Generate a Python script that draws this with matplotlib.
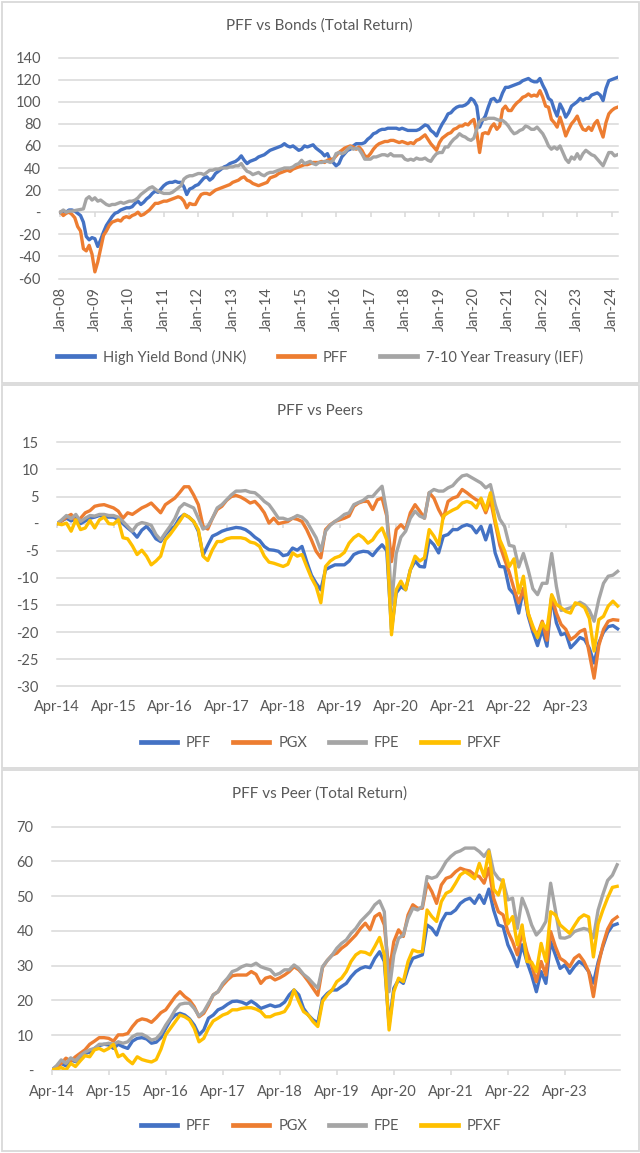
import matplotlib
matplotlib.use("Agg")
import matplotlib.pyplot as plt
from matplotlib.patches import Rectangle
from matplotlib.lines import Line2D

plt.rcParams['font.family'] = ['Lato', 'DejaVu Sans']

W, H, DPI = 640, 1153, 100
TXT = '#595959'
GRID = '#D9D9D9'
BLUE, ORANGE, GRAY, YELLOW = '#4472C4', '#ED7D31', '#A5A5A5', '#FFC000'

# ---------------- data: chart 1 (monthly, Jan-08 .. Mar-24) ----------------
bond_title = 'PFF vs Bonds (Total Return)'
bond_names = ['High Yield Bond (JNK)', 'PFF', '7-10 Year Treasury (IEF)']
bond_xlabels = ['Jan-08', 'Jan-09', 'Jan-10', 'Jan-11', 'Jan-12', 'Jan-13', 'Jan-14', 'Jan-15',
                'Jan-16', 'Jan-17', 'Jan-18', 'Jan-19', 'Jan-20', 'Jan-21', 'Jan-22', 'Jan-23', 'Jan-24']
bond_yticks = [140, 120, 100, 80, 60, 40, 20, 0, -20, -40, -60]
bond_ylabels = ['140', '120', '100', '80', '60', '40', '20', '-', '-20', '-40', '-60']

jnk = [0, 1, 0, 2, 2, 1, -1, -3, -9, -22, -25, -23,
       -24, -31, -25, -18, -12, -8, -4, -1, 0, 2, 3, 4,
       4, 5, 8, 10, 7, 9, 12, 14, 17, 19, 18, 21,
       24, 26, 27, 27, 28, 27, 27, 23, 16, 21, 22, 24,
       25, 28, 31, 32, 29, 31, 35, 37, 39, 41, 42, 44,
       45, 46, 48, 51, 47, 44, 46, 47, 48, 50, 51, 52,
       54, 56, 57, 58, 59, 60, 62, 60, 59, 60, 58, 56,
       57, 60, 59, 60, 61, 58, 56, 54, 51, 53, 47, 45,
       42, 44, 50, 53, 56, 57, 60, 62, 62, 62, 63, 66,
       68, 71, 72, 74, 75, 75, 76, 76, 76, 76, 75, 76,
       75, 74, 74, 74, 74, 75, 77, 79, 78, 74, 72, 69,
       75, 80, 84, 89, 90, 93, 95, 96, 96, 97, 99, 103,
       101, 96, 77, 83, 87, 95, 102, 103, 100, 101, 108, 113,
       113, 114, 115, 116, 117, 119, 120, 121, 119, 118, 118, 121,
       115, 110, 103, 101, 93, 87, 98, 93, 86, 90, 96, 98,
       100, 103, 101, 103, 103, 106, 107, 108, 106, 101, 112, 119,
       120, 121, 122]

pff_tr = [0, -3, -1, 0, -2, -5, -13, -17, -33, -35, -30, -38,
          -54, -45, -33, -21, -17, -12, -9, -8, -7, -8, -5, -4,
          -5, -3, -2, 0, -3, -2, 0, 2, 5, 8, 8, 9,
          10, 10, 11, 12, 13, 14, 13, 10, 4, 8, 7, 7,
          12, 16, 17, 17, 16, 18, 20, 21, 22, 23, 24, 25,
          27, 28, 29, 31, 32, 29, 28, 26, 25, 24, 25, 26,
          27, 31, 32, 33, 35, 36, 37, 38, 37, 39, 40, 41,
          42, 43, 43, 44, 45, 45, 45, 46, 45, 47, 48, 48,
          51, 54, 56, 58, 59, 60, 59, 57, 59, 56, 51, 50,
          53, 57, 60, 62, 63, 64, 64, 65, 65, 64, 63, 64,
          63, 62, 63, 62, 65, 66, 68, 70, 66, 62, 59, 56,
          63, 67, 69, 71, 72, 75, 76, 78, 78, 80, 79, 82,
          84, 72, 54, 71, 72, 71, 77, 80, 75, 78, 93, 96,
          92, 92, 96, 99, 101, 104, 105, 107, 105, 106, 105, 110,
          104, 96, 95, 84, 81, 77, 86, 78, 69, 75, 80, 83,
          87, 80, 75, 74, 77, 74, 80, 83, 75, 68, 81, 89,
          92, 94, 95]

ief = [0, 2, 0, 1, 1, 1.5, 2, 2.5, 3, 12, 14, 11,
       13, 10, 11, 9, 7, 6, 7, 7, 8, 9, 8, 9,
       10, 10, 11, 13, 16, 18, 20, 22, 23, 21, 19, 18,
       17, 17, 17, 18, 20, 22, 24, 30, 32, 33, 33, 34,
       35, 35, 34, 36, 38, 38, 39, 39, 40, 40, 40, 41,
       41, 42, 42, 44, 40, 37, 36, 34, 35, 36, 34, 33,
       35, 36, 36, 37, 38, 39, 40, 40, 40, 41, 43, 44,
       47, 44, 45, 46, 44, 43, 45, 45, 46, 46, 45, 47,
       53, 54, 53, 54, 57, 59, 57, 58, 57, 53, 48, 48,
       48, 50, 50, 51, 52, 52, 51, 53, 51, 51, 51, 51,
       48, 47, 48, 47, 49, 48, 48, 49, 47, 46, 50, 53,
       54, 54, 59, 59, 63, 66, 68, 71, 69, 68, 66, 65,
       67, 75, 82, 84, 84, 85, 85, 85, 84, 83, 83, 81,
       78, 74, 71, 72, 74, 75, 78, 77, 75, 75, 77, 74,
       71, 66, 60, 57, 59, 57, 60, 54, 48, 45, 50, 48,
       53, 48, 53, 56, 54, 52, 51, 48, 45, 42, 48, 54,
       54, 51, 52]

# ---------------- data: chart 2 (monthly, Apr-14 .. Mar-24) ----------------
peers_title = 'PFF vs Peers'
peer_names = ['PFF', 'PGX', 'FPE', 'PFXF']
peer_xlabels = ['Apr-14', 'Apr-15', 'Apr-16', 'Apr-17', 'Apr-18', 'Apr-19', 'Apr-20',
                'Apr-21', 'Apr-22', 'Apr-23']
peers_yticks = [15, 10, 5, 0, -5, -10, -15, -20, -25, -30]
peers_ylabels = ['15', '10', '5', '-', '-5', '-10', '-15', '-20', '-25', '-30']

p_pff = [0, 0.5, 1.0, 0.5, 1.0, 0.0, 0.5, 1.0, 1.2, 1.5, 1.2, 1.2,
         1.2, 0.8, 0.0, -0.8, -1.5, -2.5, -1.2, -0.5, -1.5, -2.8, -3.3, -2.0,
         -1.1, -0.5, 1.0, 1.7, 1.2, 0.4, -1.4, -5.8, -4.0, -2.3, -1.9, -1.4,
         -1.1, -0.9, -0.7, -0.8, -1.1, -1.7, -2.5, -3.1, -4.2, -4.8, -4.9, -5.1,
         -5.9, -5.7, -4.5, -4.9, -4.2, -7.0, -9.5, -11.0, -12.2, -8.5, -8.0, -7.6,
         -7.6, -7.6, -6.9, -5.7, -5.3, -5.1, -5.2, -5.9, -4.8, -3.9, -5.0, -19.5,
         -12.8, -11.6, -12.2, -8.5, -6.9, -7.9, -8.0, -3.0, -3.9, -5.4, -2.3, -2.0,
         -1.1, -1.1, -0.5, -0.2, -0.5, -1.7, -0.5, -3.0, -0.3, -5.4, -7.9, -8.0,
         -12.0, -13.0, -16.5, -12.0, -17.0, -20.0, -22.5, -19.5, -22.6, -13.5, -18.3, -20.5,
         -20.2, -22.9, -22.0, -21.0, -21.4, -23.0, -25.7, -22.0, -20.0, -19.0, -18.8, -19.4]

p_pgx = [0, 0.5, 1.2, 1.7, 0.4, 1.0, 2.0, 2.4, 3.2, 3.4, 3.5, 3.2,
         2.9, 2.3, 1.0, 2.0, 1.7, 2.3, 2.9, 3.3, 3.8, 2.9, 2.0, 3.5,
         4.1, 4.7, 5.7, 6.8, 6.8, 5.3, 3.5, -0.5, -1.0, 1.0, 2.6, 3.2,
         4.3, 5.0, 5.2, 4.9, 4.4, 3.8, 4.1, 3.2, 2.0, 0.1, 1.0, 0.0,
         0.2, 0.4, 1.0, 0.8, 0.4, -1.1, -3.0, -5.1, -6.3, -1.1, -0.2, 0.4,
         0.7, 1.0, 1.4, 3.2, 3.8, 4.1, 4.1, 2.6, 4.4, 4.7, 1.4, -7.0,
         -1.1, -0.2, -1.1, 2.0, 3.5, 2.3, 1.0, 5.7, 4.7, 2.6, 1.0, 4.1,
         4.7, 5.0, 6.3, 5.7, 5.0, 4.4, 4.1, 2.0, 4.4, 0.1, -4.0, -6.6,
         -9.0, -12.0, -14.6, -12.0, -16.5, -19.5, -20.5, -18.0, -21.5, -13.5, -16.5, -18.6,
         -19.5, -21.4, -20.8, -19.9, -19.5, -24.0, -28.5, -22.5, -19.5, -18.0, -17.7, -17.8]

p_fpe = [0, 0.7, 1.5, 0.9, 1.7, 0.4, 1.0, 1.5, 1.4, 1.7, 1.7, 1.5,
         1.5, 1.2, 0.4, -0.5, -1.4, -0.2, 0.2, 0.0, -0.3, -2.0, -3.0, -1.7,
         -0.5, 0.9, 2.9, 3.7, 3.3, 2.9, 1.0, -1.0, -0.5, 1.0, 2.9, 3.5,
         4.4, 5.3, 6.0, 6.0, 6.1, 5.8, 5.7, 5.0, 4.1, 3.5, 2.3, 1.0,
         1.0, 0.7, 1.0, 1.5, 1.2, 0.4, -1.1, -2.6, -5.0, -1.4, -0.3, 0.4,
         1.0, 1.7, 2.0, 3.5, 3.9, 4.3, 5.0, 5.0, 6.0, 6.9, 2.0, -15.0,
         -5.5, -2.5, -1.4, 1.0, 2.3, 1.4, 1.0, 5.7, 6.3, 6.0, 6.0, 6.6,
         7.0, 8.0, 8.8, 9.0, 8.5, 8.0, 7.5, 6.6, 7.2, 3.5, 0.8, -0.5,
         -4.0, -4.2, -8.0, -5.5, -8.5, -12.0, -13.1, -11.0, -11.0, -5.5, -11.6, -16.0,
         -15.8, -15.5, -15.0, -14.5, -15.0, -16.0, -18.0, -14.0, -11.0, -9.7, -9.5, -8.8]

p_pfxf = [0, -0.2, 0.1, -1.4, 0.7, -1.1, -0.8, 0.6, -0.8, 0.7, 1.2, 0.0,
          -0.1, 0.7, -2.6, -2.8, -4.1, -5.7, -4.9, -6.0, -7.6, -6.9, -6.0, -3.0,
          -2.0, -0.8, 0.4, 1.7, 1.2, 0.4, -1.1, -6.0, -6.8, -4.8, -3.3, -3.3,
          -2.8, -2.6, -2.6, -2.6, -2.8, -3.4, -3.6, -4.2, -6.0, -7.1, -7.3, -7.6,
          -7.9, -7.5, -5.4, -6.0, -5.7, -7.9, -10.0, -11.6, -14.6, -7.9, -6.9, -6.3,
          -6.0, -5.3, -3.6, -2.6, -2.0, -2.6, -3.6, -3.0, -1.7, -0.8, -3.0, -20.5,
          -12.2, -10.6, -12.2, -8.5, -6.0, -6.9, -6.3, -1.1, -2.3, -3.9, 1.4, 2.0,
          2.5, 2.9, 3.8, 4.1, 3.8, 2.9, 4.7, 2.5, 5.7, 0.7, -3.0, -5.0,
          -7.9, -6.5, -12.8, -9.7, -16.5, -18.9, -21.0, -18.3, -19.5, -13.1, -14.9, -15.5,
          -16.2, -16.5, -14.6, -14.9, -15.5, -17.5, -23.5, -17.7, -17.1, -15.2, -14.3, -15.2]

# ---------------- data: chart 3 (monthly, Apr-14 .. Mar-24) ----------------
tr_title = 'PFF vs Peer (Total Return)'
tr_yticks = [70, 60, 50, 40, 30, 20, 10, 0]
tr_ylabels = ['70', '60', '50', '40', '30', '20', '10', '-']

t_pff = [0, 1.0, 1.9, 1.2, 2.9, 2.4, 3.8, 4.8, 5.1, 6.2, 7.0, 7.4,
         7.2, 6.2, 7.4, 6.7, 6.2, 8.3, 9.1, 9.3, 8.9, 7.7, 8.0, 9.3,
         12.0, 14.4, 15.8, 16.3, 15.8, 14.7, 12.9, 10.1, 11.5, 14.9, 15.8, 17.3,
         17.9, 18.9, 19.7, 19.8, 19.5, 18.9, 19.8, 18.9, 17.7, 18.2, 18.7, 18.2,
         18.5, 19.5, 21.6, 23.0, 21.6, 17.7, 15.8, 14.4, 13.5, 20.5, 22.0, 23.0,
         23.0, 24.0, 24.9, 26.8, 28.3, 29.2, 29.7, 29.4, 32.1, 34.0, 31.2, 13.0,
         23.5, 25.9, 24.9, 29.2, 32.1, 32.6, 33.1, 41.7, 40.7, 38.8, 42.6, 45.0,
         45.0, 46.0, 47.9, 48.9, 49.4, 47.9, 50.3, 47.9, 52.0, 46.0, 41.7, 41.2,
         36.0, 33.1, 29.7, 36.0, 31.2, 27.3, 22.5, 28.3, 24.9, 36.9, 33.1, 29.2,
         30.2, 27.8, 29.7, 31.2, 30.2, 28.3, 25.0, 31.0, 35.5, 39.5, 41.5, 42.0]

t_pgx = [0, 0.7, 1.9, 3.4, 2.6, 3.8, 4.8, 5.8, 7.4, 8.3, 9.3, 9.3,
         9.1, 8.3, 10.1, 10.1, 10.5, 12.5, 14.1, 14.7, 14.4, 13.7, 15.0, 16.5,
         17.3, 19.2, 21.1, 22.5, 21.1, 20.1, 18.2, 15.3, 16.3, 18.7, 21.6, 22.5,
         24.4, 25.9, 27.1, 27.3, 27.3, 27.3, 28.3, 27.5, 24.9, 26.4, 26.8, 25.9,
         26.5, 27.3, 28.3, 29.7, 28.8, 27.3, 25.5, 23.5, 21.5, 29.5, 31.5, 33.0,
         33.6, 35.0, 36.0, 37.4, 38.8, 40.7, 42.2, 40.3, 44.1, 45.0, 41.7, 28.0,
         36.9, 40.3, 38.4, 44.6, 47.5, 46.5, 46.5, 53.7, 51.3, 47.9, 53.2, 55.1,
         55.6, 57.0, 58.0, 57.5, 57.2, 56.1, 55.6, 53.7, 58.0, 49.4, 45.5, 44.6,
         39.8, 36.9, 33.1, 39.8, 34.0, 30.2, 25.4, 31.2, 27.3, 39.8, 35.5, 32.1,
         31.2, 29.7, 32.1, 33.1, 31.2, 28.3, 21.1, 30.0, 36.0, 40.5, 43.0, 44.0]

t_fpe = [0, 1.2, 2.9, 1.9, 3.5, 2.6, 4.1, 5.1, 5.8, 6.2, 7.4, 7.4,
         7.7, 7.4, 8.1, 7.7, 8.1, 9.6, 10.3, 10.3, 9.6, 8.6, 9.0, 10.5,
         12.9, 14.9, 17.3, 18.9, 19.2, 19.2, 17.7, 15.5, 16.8, 19.2, 21.6, 22.5,
         24.9, 26.4, 28.3, 28.8, 29.7, 30.2, 30.0, 30.7, 29.7, 29.2, 28.8, 27.3,
         27.8, 28.8, 28.8, 30.2, 29.2, 27.5, 26.4, 24.9, 23.5, 29.7, 31.5, 33.0,
         35.0, 36.4, 37.4, 39.3, 40.7, 42.7, 44.1, 45.5, 47.5, 48.6, 45.5, 22.5,
         33.1, 37.9, 38.8, 43.6, 46.5, 46.0, 47.0, 55.6, 55.1, 55.6, 57.5, 59.9,
         61.4, 62.5, 63.0, 63.8, 63.8, 63.8, 62.8, 61.4, 63.3, 57.0, 55.1, 54.2,
         48.9, 49.4, 40.7, 49.4, 46.0, 41.7, 38.8, 40.3, 42.7, 53.7, 46.0, 38.0,
         37.9, 38.4, 39.8, 40.3, 40.7, 40.3, 38.0, 46.0, 50.5, 54.5, 56.0, 59.0]

t_pfxf = [0, 0.3, 0.7, 0.0, 1.9, 1.0, 2.6, 4.1, 3.8, 5.8, 6.2, 5.5,
          6.2, 7.4, 3.8, 4.5, 2.9, 1.8, 3.8, 3.0, 2.6, 2.3, 3.0, 6.0,
          10.1, 12.0, 13.9, 15.8, 15.3, 14.4, 12.0, 8.1, 9.1, 12.0, 14.1, 14.9,
          15.8, 16.3, 17.3, 17.3, 17.7, 17.9, 17.9, 17.5, 16.8, 15.3, 15.3, 16.0,
          16.3, 16.8, 18.9, 23.0, 19.7, 16.8, 15.8, 13.9, 12.5, 19.7, 21.6, 23.0,
          25.4, 26.4, 28.3, 31.2, 33.1, 34.0, 33.8, 33.1, 35.5, 38.1, 33.1, 11.5,
          22.5, 26.4, 25.4, 31.2, 34.5, 34.0, 34.0, 46.0, 44.1, 42.7, 48.4, 50.8,
          51.5, 53.7, 56.1, 57.0, 56.1, 55.0, 59.4, 55.6, 62.8, 52.0, 50.3, 54.7,
          42.0, 44.1, 36.0, 41.7, 31.2, 31.0, 28.3, 36.4, 31.2, 45.5, 44.6, 41.7,
          40.5, 39.3, 41.5, 43.6, 44.6, 44.0, 32.5, 42.0, 46.0, 49.5, 52.5, 52.8]

# ---------------- drawing ----------------
fig = plt.figure(figsize=(W / DPI, H / DPI), dpi=DPI)
fig.patch.set_facecolor('white')


def fx(px):
    return px / W


def fy(py):
    return 1 - py / H


def make_axes(left, right, top, bottom):
    return fig.add_axes([fx(left), fy(bottom), (right - left) / W, (bottom - top) / H])


# panel frames
for top, bottom in [(1.5, 383), (385, 768), (770, 1151)]:
    fig.patches.append(Rectangle((fx(1.5), fy(bottom)), (638.5 - 1.5) / W, (bottom - top) / H,
                                 transform=fig.transFigure, fill=False,
                                 edgecolor=GRID, lw=1.3))


def style(ax, ylim, yticks, ylabels, xlim, xticks, xlabels, rot, xpad, ypad):
    ax.set_xlim(*xlim)
    ax.set_ylim(*ylim)
    ax.set_yticks(yticks)
    ax.set_yticklabels(ylabels)
    ax.set_xticks(xticks)
    ax.set_xticklabels(xlabels, rotation=rot)
    for s in ax.spines.values():
        s.set_visible(False)
    ax.grid(False)
    for yv in yticks:
        ax.axhline(yv, color=GRID, lw=1.1, zorder=0, clip_on=False)
    ax.tick_params(axis='both', length=0, colors=TXT, labelsize=10.5)
    ax.tick_params(axis='y', pad=ypad)
    ax.tick_params(axis='x', pad=xpad)
    h_px = ax.get_position().height * H
    dy = 4.5 * (ylim[1] - ylim[0]) / h_px
    ax.vlines(xticks, 0, -dy, color=GRID, lw=1.1, clip_on=False, zorder=0)


def legend(names, colors, cx, cy, colsp):
    handles = [Line2D([], [], color=c, lw=3.4) for c in colors]
    fig.legend(handles, names, loc='center', bbox_to_anchor=(fx(cx), fy(cy)),
               ncol=len(names), frameon=False, fontsize=10.5, labelcolor=TXT,
               handlelength=2.5, handletextpad=0.6, columnspacing=colsp,
               borderpad=0, borderaxespad=0)


LW = 2.4

# chart 1
ax1 = make_axes(59, 618, 57.5, 278.5)
for ser, col in zip([jnk, pff_tr, ief], [BLUE, ORANGE, GRAY]):
    ax1.plot(range(len(ser)), ser, color=col, lw=LW, solid_joinstyle='round', zorder=3)
style(ax1, (-60, 140), bond_yticks, bond_ylabels, (-0.5, 194.2),
      [12 * i for i in range(len(bond_xlabels))], bond_xlabels, 90, 6, 13)
fig.text(fx(319), fy(26), bond_title, ha='center', va='center', fontsize=11, color=TXT)
legend(bond_names, [BLUE, ORANGE, GRAY], 320, 357, 2.2)

# chart 2
ax2 = make_axes(57, 620, 442.3, 686.3)
for ser, col in zip([p_pff, p_pgx, p_fpe, p_pfxf], [BLUE, ORANGE, GRAY, YELLOW]):
    ax2.plot(range(len(ser)), ser, color=col, lw=LW, solid_joinstyle='round', zorder=3)
style(ax2, (-30, 15), peers_yticks, peers_ylabels, (0, 119.5),
      [12 * i for i in range(len(peer_xlabels))], peer_xlabels, 0, 10, 13)
fig.text(fx(320), fy(411), peers_title, ha='center', va='center', fontsize=11, color=TXT)
legend(peer_names, [BLUE, ORANGE, GRAY, YELLOW], 321, 743, 1.5)

# chart 3
ax3 = make_axes(51.7, 620, 826.5, 1070)
for ser, col in zip([t_pff, t_pgx, t_fpe, t_pfxf], [BLUE, ORANGE, GRAY, YELLOW]):
    ax3.plot(range(len(ser)), ser, color=col, lw=LW, solid_joinstyle='round', zorder=3)
style(ax3, (0, 70), tr_yticks, tr_ylabels, (0, 119.6),
      [12 * i for i in range(len(peer_xlabels))], peer_xlabels, 0, 11, 13)
fig.text(fx(320), fy(794), tr_title, ha='center', va='center', fontsize=11, color=TXT)
legend(peer_names, [BLUE, ORANGE, GRAY, YELLOW], 321, 1126, 1.5)

fig.savefig('out.png', dpi=DPI, facecolor='white')
